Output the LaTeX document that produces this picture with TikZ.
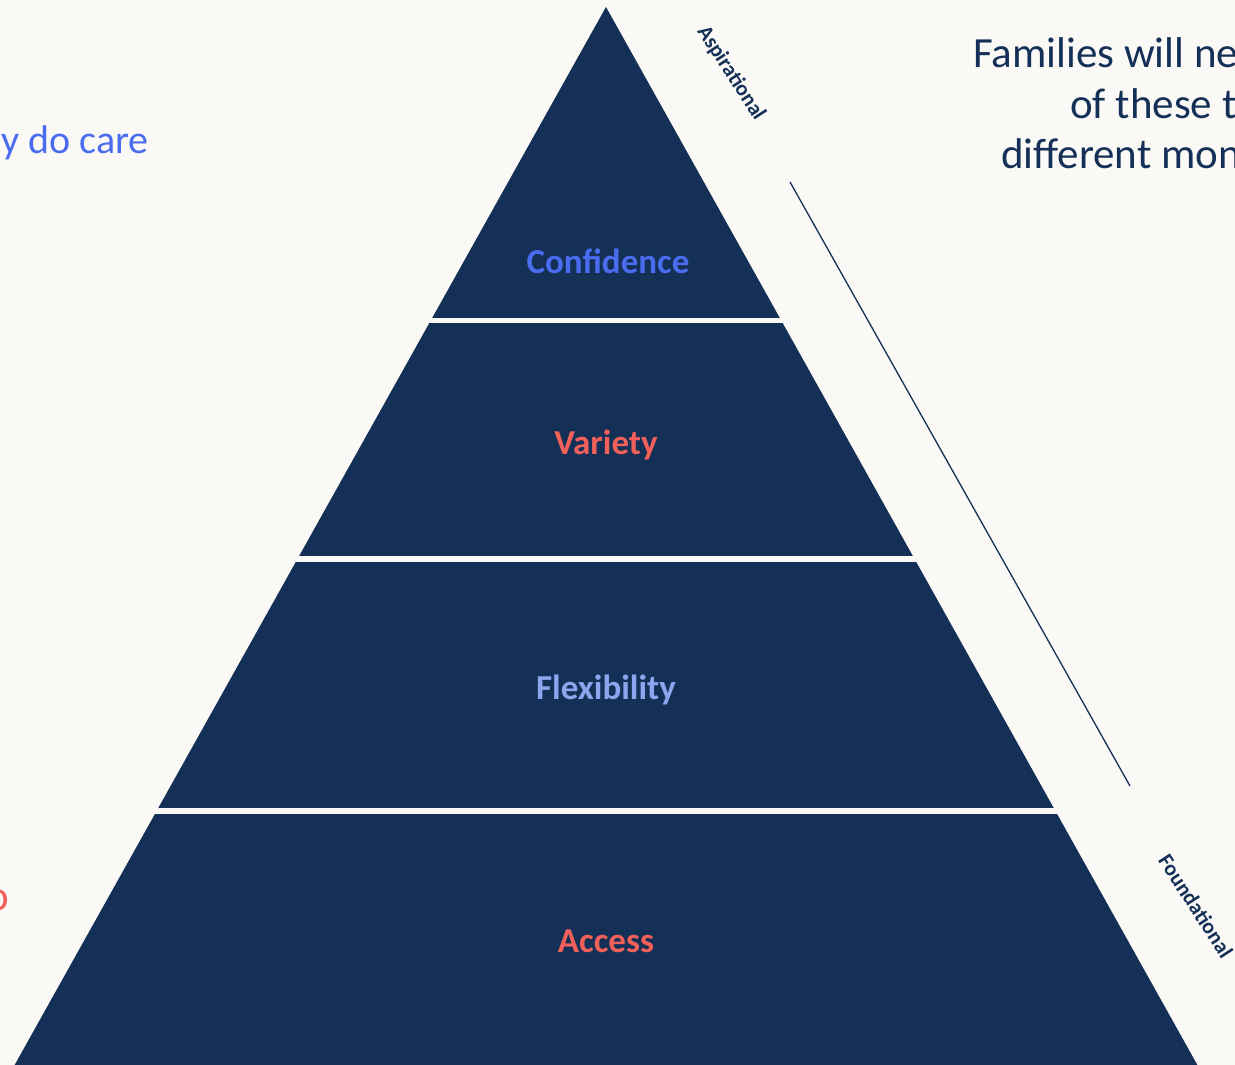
\documentclass[tikz,border=0pt]{standalone}
\usepackage{fontspec}
\setmainfont{Carlito}
\definecolor{navy}{HTML}{143056}
\definecolor{paper}{HTML}{FAF9F6}
\definecolor{tierblue}{HTML}{4A6CEE}
\definecolor{tierred}{HTML}{F2605A}
\definecolor{tierlight}{HTML}{8CA5EE}
\tikzset{
  tier/.style={font=\fontsize{35}{40}\selectfont\bfseries},
  side/.style={font=\fontsize{21.5}{26}\selectfont\bfseries, text=navy, rotate=-57},
  note/.style={font=\fontsize{43}{50}\selectfont, inner sep=0pt}
}
\begin{document}
\begin{tikzpicture}[x=1pt,y=-1pt]
  \fill[paper] (0,0) rectangle (1235,1065);
  \useasboundingbox (0,0) rectangle (1235,1065);
  \fill[navy] (606,7) -- (1197.4,1065) -- (14.6,1065) -- cycle;
  \foreach \y in {320.5,559,811}
    \draw[paper, line width=5.5pt] (0,\y) -- (1235,\y);
  \node[tier, text=tierblue] (confidence) at (608,261) {Confidence};
  \node[tier, text=tierred] (variety) at (606,445) {Variety};
  \node[tier, text=tierlight] (flexibility) at (606,690) {Flexibility};
  \node[tier, text=tierred] (access) at (606,941) {Access};
  \coordinate (top) at (790,182);
  \coordinate (bottom) at (1130,786);
  \draw[navy, line width=1.3pt] (top) -- (bottom);
  \node[side] (aspirational) at (731,73) {Aspirational};
  \node[side] (foundational) at (1196,906) {Foundational};
  \node[note, anchor=base west, text=navy] (line1) at (973,68) {Families will ne};
  \node[note, anchor=base west, text=navy] (line2) at (1070,118) {of these t};
  \node[note, anchor=base west, text=navy] (line3) at (1001,168) {different mon};
  \node[note, font=\fontsize{40}{48}\selectfont, anchor=base east, text=tierblue] (care) at (149,153) {y do care};
  \node[note, anchor=base east, text=tierred] (left) at (9,910) {o};
\end{tikzpicture}
\end{document}
